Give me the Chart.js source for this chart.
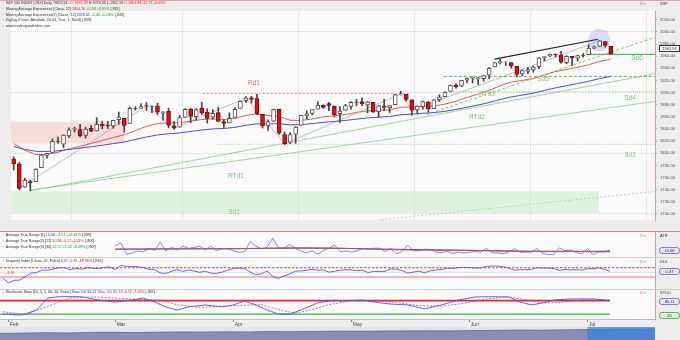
<!DOCTYPE html>
<html>
<head>
<meta charset="utf-8">
<title>S&amp;P 500 INDEX daily</title>
<script src="https://cdn.jsdelivr.net/npm/chart.js@4.4.1/dist/chart.umd.min.js"></script>
<style>
  body { margin:0; width:680px; height:340px; overflow:hidden; background:#ededed; position:relative; font-family:"Liberation Sans", Arial, sans-serif; }
  canvas { position:absolute; left:0; }
  .hd { position:absolute; left:2px; font-size:3.7px; line-height:5.8px; color:#333; white-space:nowrap; }
  .hd i { font-style:normal; color:#777; margin-right:1.5px; }
  .r { color:#e02020; } .g { color:#1c9a1c; } .b { color:#3434cc; } .p { color:#9a35b0; }
  .lbl { position:absolute; font-size:6.5px; color:#78c878; transform:translate(-50%,-50%); white-space:nowrap; }
  .ax { position:absolute; left:660px; font-size:4px; color:#333; white-space:nowrap; }
  .ic { position:absolute; left:640px; font-size:4px; color:#555; }
  .box { position:absolute; left:659px; width:19px; height:5px; font-size:4px; line-height:5px; text-align:center; border:1px solid #8d76d6; border-radius:3px; background:#ebe7fb; color:#222; }
  .sep { position:absolute; left:0; width:680px; height:1px; }
</style>
</head>
<body>
<canvas id="main" width="680" height="231" style="top:0"></canvas>
<canvas id="atr" width="680" height="26" style="top:232px"></canvas>
<canvas id="ddi" width="680" height="32" style="top:258px"></canvas>
<canvas id="sto" width="680" height="37" style="top:290px"></canvas>
<canvas id="nav" width="655" height="13" style="top:327px"></canvas>

<div class="sep" style="top:0;background:#eaa2a2"></div>
<div class="sep" style="top:231px;background:#e07a7a"></div>
<div class="sep" style="top:257px;background:#cfcfcf"></div>
<div class="sep" style="top:289px;background:#cfcfcf"></div>

<div class="hd" style="top:1px">
  <div><i>~</i>S&amp;P 500 INDEX [,INX] Daily 7/8/2014 - <span class="r">O:1976.39</span> H:1976.39 L:1962.59 <span class="r">C:1963.94 -12.71 -0.65%</span></div>
  <div><i>~</i>Moving Average Exponential [Close, 22] <span class="r">1954.70</span> <span class="g">+0.98 +0.05%</span> [,INX]</div>
  <div><i>~</i>Moving Average Exponential(2) [Close, 52] <span class="b">1926.65</span> <span class="g">+1.46 +0.08%</span> [,INX]</div>
  <div><i>~</i>ZigZag [Close, Absolute, 24.03, True, 1, Solid] [,INX]</div>
  <div><i>&#9675;</i>www.tradesignalonline.com</div>
</div>
<div class="hd" style="top:233px">
  <div><i>~</i>Average True Range [1] <span class="b">15.06</span> <span class="g">+4.57 +43.61%</span> [,INX]</div>
  <div><i>~</i>Average True Range(2) [22] <span class="r">10.96 -0.17 -1.53%</span> [,INX]</div>
  <div><i>~</i>Average True Range(3) [30] <span class="g">12.27 +1.02 +9.08%</span> [,INX]</div>
</div>
<div class="hd" style="top:259px"><div><i>~</i>Disparity Index [Close, 22, False] <span class="b">0.37</span> <span class="r">-0.76 -68.98%</span> [,INX]</div></div>
<div class="hd" style="top:290px"><div><i>~</i>Stochastic Slow [10, 5, 5, 80, 20, False] <span class="b">Slow %K 80.11</span> <span class="p">Slow %D 82.79</span> <span class="r">-6.57 -7.58%</span> [,INX]</div></div>
<div class="hd" style="top:271px;left:6px"><span class="r">-1.74</span></div>

<div class="lbl" style="left:637px;top:57px">Sd6</div>
<div class="lbl" style="left:543px;top:78px">Sd5</div>
<div class="lbl" style="left:630px;top:97px">Sd4</div>
<div class="lbl" style="left:487px;top:93px">RTd3</div>
<div class="lbl" style="left:477px;top:116px">RTd2</div>
<div class="lbl" style="left:630px;top:154px">Sd2</div>
<div class="lbl" style="left:236px;top:175px">RTd1</div>
<div class="lbl" style="left:234px;top:211px">Sd1</div>
<div class="lbl" style="left:254px;top:82px;color:#e06a6a">Rd1</div>

<div class="ic" style="top:1px">&#9633; &#215;</div><div class="ax" style="top:1px">SXP</div>
<div class="ic" style="top:233px">&#9633; &#215;</div><div class="ax" style="top:233px">ATR</div>
<div class="ic" style="top:259px">&#9633; &#215;</div><div class="ax" style="top:259px">DDI</div>
<div class="ic" style="top:290px">&#9633; &#215;</div><div class="ax" style="top:290px">STOC</div>
<div class="box" style="top:45px;border-color:#333;background:#fff;border-radius:0">1963.94</div>
<div class="box" style="top:247px">15.06</div>
<div class="box" style="top:268px">0.37</div>
<div class="box" style="top:298px">80.11</div>
<div class="box" style="top:312px;border-color:#52b852;background:#e0f4e0">20</div>

<script>
// trading days shown (Jan 31 - Jul 8, 2014)
const dates = ['1/31',
  '2/3','2/4','2/5','2/6','2/7','2/10','2/11','2/12','2/13','2/14','2/18','2/19','2/20','2/21','2/24','2/25','2/26','2/27','2/28',
  '3/3','3/4','3/5','3/6','3/7','3/10','3/11','3/12','3/13','3/14','3/17','3/18','3/19','3/20','3/21','3/24','3/25','3/26','3/27','3/28','3/31',
  '4/1','4/2','4/3','4/4','4/7','4/8','4/9','4/10','4/11','4/14','4/15','4/16','4/17','4/21','4/22','4/23','4/24','4/25','4/28','4/29','4/30',
  '5/1','5/2','5/5','5/6','5/7','5/8','5/9','5/12','5/13','5/14','5/15','5/16','5/19','5/20','5/21','5/22','5/23','5/27','5/28','5/29','5/30',
  '6/2','6/3','6/4','6/5','6/6','6/9','6/10','6/11','6/12','6/13','6/16','6/17','6/18','6/19','6/20','6/23','6/24','6/25','6/26','6/27','6/30',
  '7/1','7/2','7/3','7/7','7/8'];
const monthNames = ['Jan','Feb','Mar','Apr','May','Jun','Jul','Aug','Sep','Oct','Nov','Dec'];

const open = [1790.88,
  1782.68,1743.82,1753.38,1752.99,1776.01,1796.20,1800.45,1820.12,1814.82,1828.46,1839.03,1838.90,1829.24,1841.07,1836.78,1847.66,1845.79,1844.90,1855.12,
  1857.68,1849.23,1874.05,1874.18,1878.52,1877.86,1878.26,1866.15,1869.06,1845.07,1842.81,1858.92,1872.25,1860.09,1874.53,1867.67,1859.48,1867.09,1852.11,1850.07,1859.16,
  1873.96,1886.61,1891.43,1890.25,1863.92,1845.48,1852.64,1872.28,1830.65,1818.18,1831.45,1846.01,1861.73,1865.79,1872.57,1879.32,1881.97,1877.72,1865.00,1870.78,1877.10,
  1884.39,1885.30,1879.45,1883.69,1868.53,1877.39,1875.27,1880.03,1896.75,1897.13,1888.16,1871.19,1876.66,1884.88,1873.34,1888.19,1893.32,1902.01,1911.77,1910.60,1920.33,
  1923.87,1923.07,1923.06,1928.52,1942.41,1948.97,1950.34,1949.37,1943.35,1930.80,1934.84,1937.15,1942.73,1957.50,1960.45,1962.92,1961.97,1949.27,1959.89,1956.56,1960.79,
  1962.29,1973.06,1975.88,1984.22,1976.39];
const high = [1793.88,
  1784.83,1758.73,1755.79,1774.06,1798.03,1799.94,1823.54,1826.55,1830.25,1841.65,1842.87,1847.50,1842.79,1846.13,1858.71,1852.91,1852.65,1854.53,1867.92,
  1857.68,1876.23,1876.53,1881.94,1883.57,1877.87,1882.35,1868.38,1874.40,1852.44,1862.30,1873.76,1874.14,1873.49,1883.97,1873.34,1871.87,1875.92,1855.55,1866.63,1875.18,
  1885.84,1893.17,1893.80,1897.28,1864.04,1854.95,1872.43,1872.53,1835.07,1834.19,1844.02,1862.31,1869.63,1871.89,1884.89,1879.75,1884.06,1877.72,1877.01,1880.60,1885.20,
  1888.59,1891.33,1885.51,1883.69,1878.83,1889.07,1878.57,1897.13,1902.17,1897.13,1888.16,1878.28,1886.00,1884.88,1888.80,1896.33,1901.26,1912.28,1914.46,1920.03,1924.03,
  1925.88,1924.97,1928.63,1941.74,1949.44,1955.55,1950.86,1949.37,1943.35,1937.30,1941.15,1943.69,1957.74,1959.87,1963.91,1963.74,1968.17,1960.83,1959.89,1961.47,1964.24,
  1978.58,1976.67,1985.59,1984.22,1976.39];
const low = [1772.26,
  1739.66,1743.82,1737.92,1752.99,1776.01,1791.83,1800.41,1815.97,1809.22,1825.59,1835.01,1826.99,1824.58,1835.60,1836.78,1840.19,1840.66,1841.13,1847.67,
  1834.44,1849.23,1871.11,1874.18,1870.56,1867.04,1863.88,1854.38,1841.86,1839.57,1842.81,1858.92,1850.35,1854.63,1863.46,1849.69,1855.96,1852.56,1842.11,1850.07,1859.16,
  1873.96,1883.79,1882.65,1863.26,1841.48,1837.49,1852.38,1830.87,1814.36,1815.80,1816.29,1846.01,1856.72,1863.18,1872.57,1873.91,1870.24,1859.70,1850.61,1870.78,1872.69,
  1878.04,1878.50,1866.77,1867.72,1859.79,1870.05,1867.02,1880.03,1896.06,1885.77,1862.36,1864.82,1872.42,1868.14,1873.34,1885.39,1893.32,1902.01,1907.30,1909.82,1915.98,
  1915.98,1913.28,1918.60,1922.93,1942.41,1947.16,1944.64,1940.08,1925.78,1927.69,1930.91,1933.55,1939.29,1952.26,1959.17,1958.89,1948.34,1947.49,1944.69,1952.18,1958.22,
  1962.29,1972.58,1975.88,1974.88,1962.59];
const close = [1782.59,
  1741.89,1755.20,1751.64,1773.43,1797.02,1799.84,1819.75,1819.26,1829.83,1838.63,1840.76,1828.75,1839.78,1836.25,1847.61,1845.12,1845.16,1854.29,1859.45,
  1845.73,1873.91,1873.81,1877.03,1878.04,1877.17,1867.63,1868.20,1846.34,1841.13,1858.83,1872.25,1860.77,1872.01,1866.52,1857.44,1865.62,1852.56,1849.04,1857.62,1872.34,
  1885.52,1890.90,1888.77,1865.09,1845.04,1851.96,1872.18,1833.08,1815.69,1830.61,1842.98,1862.31,1864.85,1871.89,1879.55,1875.39,1878.61,1863.40,1869.43,1878.33,1883.95,
  1883.68,1881.14,1884.66,1867.72,1878.21,1875.63,1878.48,1896.65,1897.45,1888.53,1870.85,1877.86,1885.08,1872.83,1888.03,1892.49,1900.53,1911.91,1909.78,1920.03,1923.57,
  1924.97,1924.24,1927.88,1940.46,1949.44,1951.27,1950.79,1943.89,1930.11,1936.16,1937.78,1941.99,1956.98,1959.48,1962.87,1962.61,1949.98,1959.53,1957.22,1960.96,1960.23,
  1973.32,1974.62,1985.44,1977.65,1963.94];

// moving averages (sampled every 2nd day)
const ema22At = [0,2,4,6,8,10,12,14,16,18,20,22,24,26,28,30,32,34,36,38,40,42,44,46,48,50,52,54,56,58,60,62,64,66,68,70,72,74,76,78,80,82,84,86,88,90,92,94,96,98,100,102,104,106,108];
const ema22 = [1816.0,1804.9,1797.9,1798.0,1801.6,1807.1,1811.6,1816.0,1821.1,1825.9,1830.3,1837.5,1844.2,1848.9,1850.2,1850.2,1852.9,1855.6,1856.6,1855.7,1857.3,1862.4,1864.8,1862.1,1860.4,1854.3,1854.1,1856.5,1860.0,1861.7,1863.8,1867.2,1869.8,1870.4,1871.5,1875.7,1876.3,1877.2,1877.8,1880.9,1885.9,1891.9,1897.4,1903.5,1911.3,1917.3,1920.0,1923.3,1929.1,1934.7,1938.1,1941.6,1945.8,1951.5,1954.7];
const ema52At = ema22At;
const ema52 = [1811.0,1806.4,1803.1,1802.8,1804.0,1806.3,1808.4,1810.6,1813.2,1815.9,1818.6,1822.7,1826.7,1830.1,1832.1,1833.4,1835.9,1838.3,1840.0,1840.8,1842.6,1846.0,1848.3,1848.3,1848.6,1846.7,1847.2,1848.8,1850.9,1852.4,1854.0,1856.2,1858.2,1859.3,1860.6,1863.3,1864.5,1865.8,1866.9,1869.1,1872.2,1875.8,1879.5,1883.5,1888.5,1892.8,1895.8,1899.1,1903.5,1907.8,1911.3,1914.8,1918.6,1923.1,1926.65];
const zigzagAt = [1, 24, 29, 42, 49, 70, 72, 106];

// drawn annotations: [from day, to day, price] or [day1, price1, day2, price2]
const pinkZone = [-0.5, 20, 1816, 1852];
const greenZone = [-0.5, 105.9, 1702, 1737.5];
const rd1 = [34.2, 71.5, 1898.5];
const sd5 = [77.8, 116, 1926.6];
const sd4 = [77.8, 116, 1901.5];
const sd6 = [103.9, 116, 1963];
const sd2 = [36.9, 116, 1814.7];
const rtd1 = [3, 1737.8, 116, 1931.1];
const rtd2 = [3, 1739.3, 116, 1885.4];
const sd1Trend = [60, 1684.5, 116, 1736.9];
const channel = [74.7, 1863.7, 116, 1991.2];
const wedge = [87.0, 1955.1, 105.7, 1988.0];
const focus = [105.9, 1986.5];
const priceTicks = [1700,1720,1740,1760,1780,1800,1820,1840,1860,1880,1900,1920,1940,1960,1980,2000,2020];

// lower panels
const atrStart = 20;
const atr1 = [25.0,30.5,5.4,8.1,13.0,11.0,18.5,14.0,32.5,12.9,21.2,14.9,23.8,18.9,20.5,23.7,15.9,23.4,13.4,17.6,17.6,
  13.5,9.4,11.2,34.0,23.6,17.5,20.5,41.7,20.7,18.5,27.7,19.3,12.9,8.7,13.0,5.8,13.8,18.9,26.4,11.2,12.5,
  10.6,12.8,18.7,16.9,19.0,19.0,11.6,18.7,6.1,11.7,26.2,13.5,13.6,16.9,16.0,10.9,8.8,11.8,7.2,10.3,8.1,
  9.9,11.7,10.0,18.8,9.0,8.4,6.6,10.7,18.1,9.6,10.2,10.1,18.5,7.6,4.7,4.9,19.8,13.3,15.2,9.3,6.0,
  18.4,4.1,11.0,10.5,15.06];
const atr22At = [20,30,41,47,52,58,63,68,74,80,85,90,96,102,108];
const atr22 = [16.5,17.5,18.0,19.0,20.3,19.5,17.8,16.0,14.6,14.0,13.5,12.0,11.3,11.4,10.96];
const atr30At = [20,30,41,52,60,68,76,85,92,100,108];
const atr30 = [17.0,17.5,18.0,19.2,18.8,17.0,15.5,14.0,12.5,12.0,12.27];

const ddi = [-2.1,
  -4.0,-3.0,-2.9,-1.6,-0.3,-0.1,0.9,0.8,1.3,1.7,1.7,1.0,1.5,1.2,1.7,1.5,1.4,1.8,2.0,
  1.1,2.5,2.3,2.2,2.1,1.8,1.1,1.0,-0.2,-0.4,0.4,1.0,0.4,0.9,0.5,0.0,0.4,-0.3,-0.4,0.1,0.8,
  1.4,1.6,1.4,0.1,-0.9,-0.5,0.5,-1.5,-2.3,-1.4,-0.6,0.4,0.5,0.8,1.1,0.8,0.9,0.1,0.4,0.8,1.0,
  0.9,0.7,0.8,-0.1,0.4,0.3,0.4,1.3,1.2,0.7,-0.3,0.1,0.5,-0.2,0.6,0.8,1.1,1.6,1.4,1.8,1.9,
  1.8,1.6,1.7,2.2,2.4,2.3,2.1,1.6,0.8,1.0,1.0,1.1,1.7,1.6,1.6,1.4,0.7,1.1,0.9,1.0,0.8,
  1.4,1.3,1.7,1.13,0.37];
const ddiLevels = [1.74, -1.74];

const stochKAt = [0,3,4,6,8,10,14,17,20,23,25,27,29,31,33,36,39,41,43,45,47,49,51,53,56,59,60,64,66,69,72,75,78,81,84,87,90,92,94,96,98,101,105,108];
const stochK = [20,15,20,38,92,98,98,83,74,83,92,74,52,38,52,61,52,61,79,61,38,20,20,38,70,83,79,83,74,65,61,43,61,83,97,98,97,74,61,70,83,88,88,80.11];
const stochDAt = [0,4,8,12,16,20,24,28,31,35,39,43,46,49,52,55,58,62,66,70,74,78,82,86,90,93,96,99,103,108];
const stochD = [30,18,55,92,97,92,86,82,62,50,55,60,62,40,24,40,62,80,80,72,58,55,68,88,97,85,70,72,84,82.79];
const stochLevels = [80, 20];

const navValues = [5.0,5.3,5.6,5.4,5.8,5.9,5.7,6.0,6.2,6.1,6.3,6.2,6.5,6.4,6.6,6.8,6.7,6.9,7.0,7.1,7.0,7.3,7.4,7.6,7.5,7.8,8.0,8.1,8.3,8.5];
const navWindow = [26, 29];

// month ticks
const monthIdx = [], monthLbl = [];
dates.forEach((d, i) => {
  const m = +d.split('/')[0];
  if (i > 0 && m !== +dates[i - 1].split('/')[0]) { monthIdx.push(i); monthLbl.push(monthNames[m - 1]); }
});

const bgPlugin = {
  id: 'bg',
  beforeDraw(chart, args, opts) {
    const a = chart.chartArea, c = chart.ctx;
    c.save();
    c.fillStyle = opts.color || '#fafafa';
    c.fillRect(a.left, a.top, a.right - a.left, a.bottom - a.top);
    c.restore();
  }
};
Chart.register(bgPlugin);

const pts = (at, vals) => at.map((x, k) => ({ x: x, y: vals[k] }));
function line(points, color, width, dash, order) {
  return { type: 'line', data: points, borderColor: color, borderWidth: width, borderDash: dash || [],
    pointRadius: 0, fill: false, tension: 0, order: order || 6 };
}
const hseg = s => [{ x: s[0], y: s[2] }, { x: s[1], y: s[2] }];
const tseg = s => [{ x: s[0], y: s[1] }, { x: s[2], y: s[3] }];
function zone(z, color) {
  return { type: 'line', data: [{ x: z[0], y: z[3] }, { x: z[1], y: z[3] }], borderWidth: 0, borderColor: 'rgba(0,0,0,0)',
    pointRadius: 0, fill: { value: z[2] }, backgroundColor: color, order: 30 };
}

function baseOptions(yMin, yMax) {
  return {
    responsive: false, animation: false, events: [],
    layout: { padding: 0 },
    plugins: { legend: { display: false }, tooltip: { enabled: false }, bg: { color: '#fafafa' } },
    scales: {
      x: { type: 'linear', min: -0.5, max: 116, offset: false, display: false },
      y: { position: 'right', min: yMin, max: yMax,
        afterFit: s => { s.width = 25; s.paddingTop = 0; s.paddingBottom = 0; },
        ticks: { display: false }, grid: { display: false },
        border: { color: '#e39a9a', dash: [1, 1] } }
    }
  };
}

// ---- main price panel
const days = close.map((c, i) => i);
const down = days.map(i => close[i] < open[i]);
const mainOpts = baseOptions(1689.9, 2034.46);
mainOpts.layout.padding = { top: 1 };
mainOpts.scales.x = { type: 'linear', min: -0.5, max: 116, offset: false,
  afterBuildTicks: s => { s.ticks = monthIdx.map(v => ({ value: v })); },
  ticks: { display: false }, grid: { color: '#e7e7e7', drawTicks: false }, border: { display: false } };
mainOpts.scales.y = { position: 'right', min: 1689.9, max: 2034.46,
  afterBuildTicks: s => { s.ticks = priceTicks.map(v => ({ value: v })); },
  afterFit: s => { s.width = 25; s.paddingTop = 0; s.paddingBottom = 0; },
  ticks: { color: '#555', padding: 3, font: { family: 'Liberation Sans', size: 4.2 }, callback: v => v.toFixed(2) },
  grid: { color: c => (c.tick && c.tick.value % 100 === 0) ? '#d3d3d3' : 'rgba(0,0,0,0)', tickColor: '#e39a9a', tickLength: 2 },
  border: { color: '#e39a9a', dash: [1, 1] } };

new Chart(document.getElementById('main'), {
  type: 'line',
  data: { datasets: [
    zone(pinkZone, 'rgba(246,198,198,0.6)'),
    zone(greenZone, 'rgba(204,238,204,0.6)'),
    line(hseg(rd1), '#e38080', 0.8, [2, 2]),
    line(hseg(sd5), '#5cbb5c', 1, [3, 2]),
    line(hseg(sd4), '#93d293', 0.8, [1.5, 1.5]),
    line(hseg(sd6), '#5cbb5c', 1.4),
    line(hseg(sd2), '#a9cba9', 0.8, [1.5, 1.5]),
    line(tseg(rtd1), '#88cc88', 0.8),
    line(tseg(rtd2), '#88cc88', 0.8),
    line(tseg(sd1Trend), '#a3d6a3', 0.8, [2, 2]),
    line(tseg(channel), '#6cc36c', 0.9, [3, 2]),
    line(tseg(wedge), '#222222', 1.1),
    line(zigzagAt.map(i => ({ x: i, y: close[i] })), '#a6a6a6', 0.7),
    line(pts(ema52At, ema52), '#4d4dd6', 1, null, 4),
    line(pts(ema22At, ema22), '#e35c5c', 1, null, 4),
    { type: 'line', data: [{ x: focus[0], y: focus[1] }], showLine: false, pointRadius: 11,
      pointBackgroundColor: 'rgba(150,160,235,0.35)', pointBorderWidth: 0, order: 25 },
    { type: 'bar', data: days.map(i => ({ x: i, y: [low[i], high[i]] })), backgroundColor: '#444',
      barThickness: 1, grouped: false, order: 2 },
    { type: 'bar', data: days.map(i => ({ x: i, y: [Math.min(open[i], close[i]), Math.max(open[i], close[i])] })),
      backgroundColor: down.map(d => d ? '#e00f0f' : '#ffffff'), borderColor: down.map(d => d ? '#741010' : '#555555'),
      borderWidth: 1, borderSkipped: false, barThickness: 4, grouped: false, order: 1 }
  ] },
  options: mainOpts
});

// ---- ATR panel
new Chart(document.getElementById('atr'), {
  type: 'line',
  data: { datasets: [
    line(pts(atr30At, atr30), '#333333', 0.9, null, 3),
    line(pts(atr22At, atr22), '#cf5050', 0.9, null, 2),
    line(atr1.map((v, k) => ({ x: atrStart + k, y: v })), '#6a6ae6', 0.8, null, 1)
  ] },
  options: baseOptions(-3, 55.5)
});

// ---- Disparity panel
new Chart(document.getElementById('ddi'), {
  type: 'line',
  data: { datasets: [
    line(hseg([-0.5, 116, 0]), '#d8d8d8', 0.8, null, 9),
    line(hseg([-0.5, 116, ddiLevels[0]]), '#e23a3a', 1.1, [2.5, 1.5], 8),
    line(hseg([-0.5, 116, ddiLevels[1]]), '#e46a6a', 0.9, null, 8),
    line(ddi.map((v, i) => ({ x: i, y: v })), '#5a5ad8', 0.9, null, 1)
  ] },
  options: baseOptions(-6.6, 5.37)
});

// ---- Stochastic panel
const stoOpts = baseOptions(-2.35, 128.15);
stoOpts.scales.x = { type: 'linear', min: -0.5, max: 116, offset: false,
  afterBuildTicks: s => { s.ticks = monthIdx.map(v => ({ value: v })); },
  afterFit: s => { s.height = 8; s.paddingLeft = 0; s.paddingRight = 0; },
  ticks: { align: 'start', autoSkip: false, maxRotation: 0, padding: 0, color: '#444',
    font: { family: 'Liberation Sans', size: 5 }, callback: (v, i) => ' ' + monthLbl[i] },
  grid: { drawOnChartArea: false, tickLength: 3, tickColor: '#888' },
  border: { color: '#bdbdbd' } };
new Chart(document.getElementById('sto'), {
  type: 'line',
  data: { datasets: [
    line(hseg([-0.5, 108, stochLevels[0]]), '#e22a2a', 1.8, null, 8),
    line(hseg([-0.5, 108, stochLevels[1]]), '#3fb03f', 1.2, null, 8),
    line(pts(stochDAt, stochD), '#a848c0', 0.8, [2, 1.5], 2),
    line(pts(stochKAt, stochK), '#5555dd', 0.9, null, 1)
  ] },
  options: stoOpts
});

// ---- navigator
new Chart(document.getElementById('nav'), {
  type: 'line',
  data: { datasets: [
    { data: [{ x: navWindow[0], y: 10 }, { x: navWindow[1], y: 10 }], borderWidth: 0, pointRadius: 0,
      backgroundColor: 'rgba(60,128,220,0.75)', fill: 'origin', order: 1 },
    { data: navValues.map((v, i) => ({ x: i, y: v })), borderColor: '#5d6190', borderWidth: 0.8, pointRadius: 0,
      backgroundColor: 'rgba(128,132,176,0.9)', fill: 'origin', order: 2 }
  ] },
  options: { responsive: false, animation: false, events: [], layout: { padding: 0 },
    plugins: { legend: { display: false }, tooltip: { enabled: false }, bg: { color: '#e3e4ec' } },
    scales: { x: { type: 'linear', min: 0, max: 29, display: false }, y: { min: 0, max: 10, display: false } } }
});
</script>
</body>
</html>
